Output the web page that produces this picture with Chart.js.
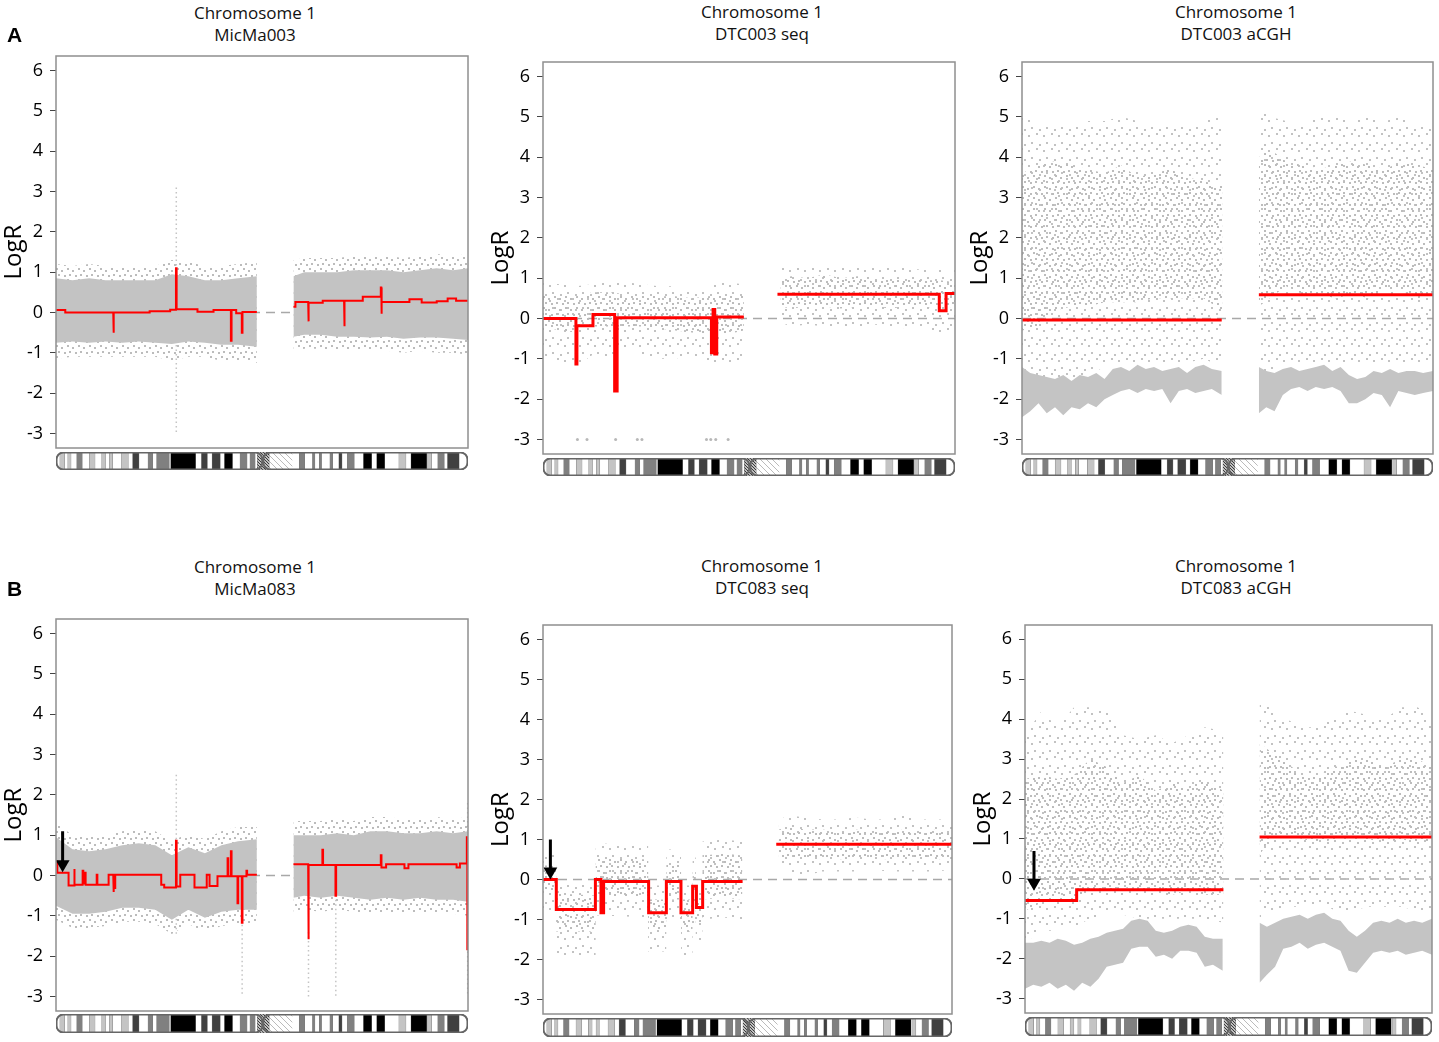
<!DOCTYPE html>
<html>
<head>
<meta charset="utf-8">
<title>Chromosome 1 LogR profiles</title>
<script src="https://cdn.jsdelivr.net/npm/chart.js@4.4.1/dist/chart.umd.min.js"></script>
<style>
body { margin: 0; background: #fff; font-family: "Open Sans", sans-serif; }
#fig { position: relative; width: 1439px; height: 1042px; overflow: hidden; }
.box { position: absolute; }
.box canvas { display: block; }
.ttl { position: absolute; font-size: 17px; line-height: 22px; color: #111; text-align: center; white-space: nowrap; transform: translateX(-50%); }
.lab { position: absolute; font: bold 21px/1 "Liberation Sans", Arial, sans-serif; color: #000; }
</style>
</head>
<body>
<div id="fig"></div>
<script>
/* ===============================
   DATA
=============================== */
const yTicks = [-3, -2, -1, 0, 1, 2, 3, 4, 5, 6];
const chromLength = 249;

// chromosome 1 ideogram bands (Mb)
const bandStart = [0, 2.3, 5.3, 7.1, 9.1, 12.5, 15.9, 20.1, 23.6, 27.6, 29.9, 32.3, 34.3, 39.6, 43.7, 46.3, 50.2, 55.6, 58.5, 60.8, 68.5, 69.3, 84.4, 87.9, 91.5, 94.3, 99.3, 101.8, 106.7, 111.2, 115.5, 117.2, 120.4, 121.7, 125.1, 128.9, 142.6, 147.0, 150.3, 155.0, 156.5, 159.1, 160.5, 165.5, 167.2, 170.9, 172.9, 176.0, 180.3, 185.8, 190.8, 193.8, 198.7, 207.2, 211.5, 214.5, 224.1, 224.6, 227.0, 230.7, 234.7, 236.6, 243.7];
const bandEnd = [2.3, 5.3, 7.1, 9.1, 12.5, 15.9, 20.1, 23.6, 27.6, 29.9, 32.3, 34.3, 39.6, 43.7, 46.3, 50.2, 55.6, 58.5, 60.8, 68.5, 69.3, 84.4, 87.9, 91.5, 94.3, 99.3, 101.8, 106.7, 111.2, 115.5, 117.2, 120.4, 121.7, 125.1, 128.9, 142.6, 147.0, 150.3, 155.0, 156.5, 159.1, 160.5, 165.5, 167.2, 170.9, 172.9, 176.0, 180.3, 185.8, 190.8, 193.8, 198.7, 207.2, 211.5, 214.5, 224.1, 224.6, 227.0, 230.7, 234.7, 236.6, 243.7, 249];
const bandStain = ["gneg", "gpos25", "gneg", "gpos25", "gneg", "gpos50", "gneg", "gpos25", "gneg", "gpos25", "gneg", "gpos25", "gneg", "gpos25", "gneg", "gpos75", "gneg", "gpos50", "gneg", "gpos50", "gneg", "gpos100", "gneg", "gpos75", "gneg", "gpos75", "gneg", "gpos100", "gneg", "gpos50", "gneg", "gpos50", "gneg", "acen", "acen", "gvar", "gneg", "gpos50", "gneg", "gpos50", "gneg", "gpos50", "gneg", "gpos50", "gneg", "gpos75", "gneg", "gpos50", "gneg", "gpos100", "gneg", "gpos100", "gneg", "gpos25", "gneg", "gpos100", "gneg", "gpos25", "gneg", "gpos50", "gneg", "gpos75", "gneg"];
const centromere = 125;

// shared position grid for the point clouds: 13 p-arm + 12 q-arm positions
const cloudX = [0, 10, 20, 30, 40, 50, 60, 70, 80, 90, 100, 110, 121.4, 143.5, 150, 160, 170, 180, 190, 200, 210, 220, 230, 240, 249];
const cloudP = 13;

// finer grid for the dense low cluster of the aCGH probes: 25 p-arm + 22 q-arm positions
const lowX = [0, 5, 10, 15, 20, 25, 30, 35, 40, 45, 50, 55, 60, 65, 70, 75, 80, 85, 90, 95, 100, 105, 110, 115, 121, 143.5, 148, 153, 158, 163, 168, 173, 178, 183, 188, 193, 198, 203, 208, 213, 218, 223, 228, 233, 238, 243, 249];
const lowP = 25;

// ---- MicMa003 ----
const m003SegStart = [0, 5.6, 34.6, 35.0, 56.6, 69.0, 72.5, 72.9, 85.5, 95.2, 105.7, 106.1, 108.9, 112.3, 112.7, 143.5, 144.7, 152.4, 152.8, 161.2, 174.1, 174.5, 185.4, 196.3, 196.6, 196.9, 213.6, 221.0, 230.1, 236.7, 241.8];
const m003SegEnd = [5.6, 34.6, 35.0, 56.6, 69.0, 72.5, 72.9, 85.5, 95.2, 105.7, 106.1, 108.9, 112.3, 112.7, 121.4, 144.7, 152.4, 152.8, 161.2, 174.1, 174.5, 185.4, 196.3, 196.6, 196.9, 213.6, 221.0, 230.1, 236.7, 241.8, 249];
const m003SegValue = [0.06, 0.0, -0.5, 0.0, 0.03, 0.07, 1.1, 0.08, 0.02, 0.06, -0.7, 0.06, -0.02, -0.5, 0.01, 0.14, 0.26, -0.22, 0.24, 0.29, -0.34, 0.29, 0.39, 0.62, -0.03, 0.26, 0.33, 0.25, 0.28, 0.35, 0.29];
const m003CoreHi = [0.85, 0.8, 0.85, 0.8, 0.8, 0.8, 0.8, 0.95, 0.9, 0.8, 0.8, 0.85, 0.9, 0.9, 1.0, 1.0, 1.0, 1.05, 1.05, 1.05, 1.0, 1.05, 1.1, 1.05, 1.1];
const m003CoreLo = [-0.75, -0.72, -0.75, -0.72, -0.75, -0.72, -0.75, -0.78, -0.72, -0.75, -0.8, -0.8, -0.85, -0.6, -0.55, -0.55, -0.6, -0.6, -0.62, -0.6, -0.65, -0.62, -0.62, -0.65, -0.68];
const m003HaloHi = [1.2, 1.15, 1.2, 1.15, 1.15, 1.15, 1.15, 1.3, 1.25, 1.15, 1.15, 1.2, 1.25, 1.3, 1.35, 1.35, 1.35, 1.4, 1.4, 1.4, 1.35, 1.4, 1.45, 1.4, 1.45];
const m003HaloLo = [-1.15, -1.1, -1.1, -1.1, -1.1, -1.1, -1.1, -1.2, -1.1, -1.1, -1.2, -1.2, -1.25, -0.95, -0.9, -0.9, -0.95, -0.95, -0.95, -0.95, -1.0, -0.95, -1.0, -1.0, -1.05];
const m003ColX = [72.7];
const m003ColTop = [3.1];
const m003ColBottom = [-3.0];

// ---- DTC003 seq ----
const s003SegStart = [0, 19.9, 20.5, 30.2, 43.3, 44.8, 101.8, 102.8, 103.8, 105.0, 141.7, 239.5, 243.6];
const s003SegEnd = [19.9, 20.5, 30.2, 43.3, 44.8, 101.8, 102.8, 103.8, 105.0, 121.4, 239.5, 243.6, 249];
const s003SegValue = [0.0, -1.13, -0.18, 0.1, -1.8, 0.02, -0.85, 0.22, -0.88, 0.04, 0.6, 0.19, 0.62];
const s003CoreHi = [0.6, 0.6, 0.55, 0.65, 0.65, 0.6, 0.6, 0.55, 0.55, 0.5, 0.55, 0.6, 0.6, 1.0, 1.05, 1.0, 1.1, 1.0, 1.05, 1.0, 1.0, 1.0, 0.95, 0.95, 0.9];
const s003CoreLo = [-0.2, -0.3, -0.35, -0.2, -0.2, -0.2, -0.2, -0.25, -0.3, -0.35, -0.4, -0.4, -0.3, 0.3, 0.25, 0.3, 0.3, 0.25, 0.3, 0.3, 0.25, 0.3, 0.3, 0.25, 0.3];
const s003HaloHi = [0.9, 0.85, 0.8, 0.85, 0.9, 0.9, 0.85, 0.8, 0.8, 0.75, 0.8, 0.9, 0.85, 1.3, 1.3, 1.25, 1.3, 1.3, 1.3, 1.25, 1.3, 1.25, 1.2, 1.2, 1.2];
const s003HaloLo = [-0.9, -1.1, -1.2, -0.9, -1.0, -0.8, -0.9, -1.0, -1.0, -0.9, -1.1, -1.2, -1.0, -0.1, -0.2, -0.15, -0.2, -0.2, -0.2, -0.15, -0.2, -0.25, -0.2, -0.4, -0.2];
const s003OutX = [20.8, 26.6, 43.9, 57.0, 59.8, 98.8, 101.4, 104.4, 111.9];
const s003OutY = [-3, -3, -3, -3, -3, -3, -3, -3, -3];

// ---- DTC003 aCGH ----
const c003SegStart = [0, 143.5];
const c003SegEnd = [121.0, 249];
const c003SegValue = [-0.04, 0.59];
const c003HaloHi = [5.0, 4.9, 4.8, 4.8, 4.9, 4.9, 5.0, 4.9, 4.8, 4.9, 4.8, 4.9, 5.0, 5.2, 5.0, 4.9, 4.8, 5.0, 5.0, 4.9, 5.0, 4.9, 5.0, 4.8, 4.9];
const c003HaloLo = [-1.6, -1.6, -1.5, -1.5, -1.4, -1.2, -1.1, -1.1, -1.1, -1.1, -1.1, -1.0, -1.2, -1.5, -1.3, -1.2, -1.1, -1.1, -1.1, -1.2, -1.1, -1.2, -1.1, -1.2, -1.2];
const c003CoreHi = [3.6, 3.8, 3.9, 3.8, 3.7, 3.6, 3.8, 3.5, 3.6, 3.7, 3.5, 3.4, 3.3, 4.0, 4.2, 3.9, 3.8, 3.7, 3.8, 3.9, 3.8, 3.7, 3.9, 3.8, 3.7];
const c003CoreLo = [-0.3, -0.2, 0.2, 0.3, 0.3, 0.4, 0.4, 0.4, 0.5, 0.5, 0.5, 0.5, 0.2, 0.3, 0.5, 0.8, 0.6, 0.6, 0.5, 0.6, 0.5, 0.7, 0.7, 0.5, 0.6];
const c003LowHi = [-1.2, -1.35, -1.4, -1.45, -1.5, -1.4, -1.55, -1.4, -1.45, -1.35, -1.5, -1.25, -1.2, -1.3, -1.15, -1.25, -1.2, -1.3, -1.25, -1.2, -1.35, -1.2, -1.15, -1.25, -1.3, -1.2, -1.3, -1.35, -1.25, -1.2, -1.3, -1.25, -1.2, -1.15, -1.3, -1.2, -1.4, -1.5, -1.45, -1.3, -1.35, -1.25, -1.35, -1.3, -1.3, -1.35, -1.3];
const c003LowLo = [-2.45, -2.3, -2.1, -2.35, -2.2, -2.4, -2.2, -2.25, -2.1, -2.2, -2.0, -1.9, -1.8, -1.75, -1.85, -1.75, -1.8, -1.75, -2.1, -1.8, -1.75, -1.85, -1.8, -1.75, -1.9, -2.35, -2.2, -2.3, -1.9, -1.75, -1.7, -1.8, -1.7, -1.75, -1.7, -1.8, -2.1, -2.1, -2.0, -1.85, -1.9, -2.2, -1.8, -1.85, -1.9, -1.85, -1.8];

// ---- MicMa083 ----
const m083SegStart = [0, 0.8, 7.6, 10.9, 11.3, 16.1, 16.5, 17.5, 17.9, 24.6, 25.0, 31.8, 34.6, 35.0, 35.8, 63.6, 65.4, 72.5, 72.9, 75.1, 83.7, 91.1, 92.8, 97.6, 103.7, 104.1, 105.7, 106.1, 109.7, 110.1, 112.3, 112.7, 115.1, 115.5, 143.5, 152.4, 152.8, 161.0, 161.4, 168.9, 169.3, 196.3, 196.7, 199.5, 210.6, 213.0, 242.1, 244.1, 248.3, 248.6];
const m083SegEnd = [0.8, 7.6, 10.9, 11.3, 16.1, 16.5, 17.5, 17.9, 24.6, 25.0, 31.8, 34.6, 35.0, 35.8, 63.6, 65.4, 72.5, 72.9, 75.1, 83.7, 91.1, 92.8, 97.6, 103.7, 104.1, 105.7, 106.1, 109.7, 110.1, 112.3, 112.7, 115.1, 115.5, 121.4, 152.4, 152.8, 161.0, 161.4, 168.9, 169.3, 196.3, 196.7, 199.5, 210.6, 213.0, 242.1, 244.1, 248.3, 248.6, 249];
const m083SegValue = [0.35, 0.07, -0.25, 0.16, -0.23, 0.12, -0.2, 0.07, -0.23, 0.02, -0.23, 0.02, -0.41, -0.31, 0.02, -0.23, -0.3, 0.86, -0.27, 0.02, -0.3, 0.02, -0.26, -0.02, 0.43, -0.02, 0.6, -0.02, -0.69, -0.02, -1.17, -0.02, 0.12, 0.02, 0.28, -1.58, 0.26, 0.64, 0.26, -0.5, 0.26, 0.5, 0.2, 0.28, 0.18, 0.28, 0.2, 0.3, 0.95, -1.83];
const m083CoreHi = [0.95, 0.65, 0.6, 0.65, 0.75, 0.8, 0.75, 0.5, 0.7, 0.55, 0.75, 0.85, 0.9, 1.0, 1.0, 1.0, 1.05, 1.0, 1.1, 1.1, 1.05, 1.05, 1.1, 1.05, 1.1];
const m083CoreLo = [-0.75, -0.95, -0.95, -0.9, -0.8, -0.8, -0.85, -1.1, -0.85, -1.05, -0.9, -0.85, -0.85, -0.55, -0.5, -0.55, -0.5, -0.55, -0.6, -0.55, -0.6, -0.55, -0.6, -0.6, -0.65];
const m083HaloHi = [1.3, 1.0, 0.95, 1.0, 1.1, 1.15, 1.1, 0.85, 1.05, 0.9, 1.1, 1.2, 1.2, 1.35, 1.35, 1.35, 1.4, 1.35, 1.45, 1.45, 1.4, 1.4, 1.45, 1.4, 1.45];
const m083HaloLo = [-1.1, -1.3, -1.3, -1.25, -1.15, -1.15, -1.2, -1.45, -1.2, -1.4, -1.25, -1.2, -1.2, -0.9, -0.85, -0.9, -0.85, -0.9, -0.95, -0.9, -0.95, -0.9, -0.95, -0.95, -1.0];
const m083ColX = [72.7, 112.5, 152.6, 169.1, 248.8];
const m083ColTop = [2.5, -1.0, -1.4, -0.6, 1.8];
const m083ColBottom = [-1.5, -3.0, -3.0, -3.0, -3.0];
const m083Arrow = [4.0, 1.1, 0.28]; // x, shaft top, head centre

// ---- DTC083 seq ----
const s083SegStart = [0, 8.1, 31.9, 35.3, 36.9, 64.3, 75.1, 84.0, 91.1, 93.4, 97.2, 142];
const s083SegEnd = [8.1, 31.9, 35.3, 36.9, 64.3, 75.1, 84.0, 91.1, 93.4, 97.2, 121.5, 249];
const s083SegValue = [0.0, -0.75, 0.0, -0.83, -0.05, -0.83, -0.05, -0.83, -0.17, -0.7, -0.05, 0.88];
const s083CloudX = [0, 8, 8.1, 32, 32.1, 36, 64, 64.1, 75, 75.1, 84, 84.1, 91, 91.1, 93, 93.1, 97, 97.1, 110, 121.4, 143.5, 150, 160, 170, 180, 190, 200, 210, 220, 230, 240, 249];
const s083CloudP = 20;
const s083CoreHi = [0.35, 0.35, -0.35, -0.4, 0.5, 0.55, 0.5, -0.5, -0.5, 0.4, 0.4, -0.5, -0.5, 0.2, 0.2, -0.4, -0.4, 0.6, 0.65, 0.6, 1.25, 1.3, 1.25, 1.25, 1.2, 1.25, 1.2, 1.2, 1.25, 1.2, 1.25, 1.2];
const s083CoreLo = [-0.3, -0.3, -1.3, -1.3, -0.4, -0.4, -0.45, -1.25, -1.25, -0.5, -0.5, -1.3, -1.3, -0.6, -0.6, -1.1, -1.1, -0.5, -0.45, -0.5, 0.55, 0.5, 0.55, 0.55, 0.5, 0.55, 0.55, 0.5, 0.55, 0.55, 0.5, 0.55];
const s083HaloHi = [0.7, 0.7, 0.0, -0.05, 0.85, 0.9, 0.85, -0.15, -0.15, 0.75, 0.75, -0.15, -0.15, 0.55, 0.55, -0.05, -0.05, 0.95, 1.0, 0.95, 1.5, 1.6, 1.55, 1.5, 1.5, 1.55, 1.5, 1.5, 1.6, 1.5, 1.5, 1.5];
const s083HaloLo = [-0.8, -0.8, -2.0, -2.0, -0.9, -0.9, -0.95, -1.8, -1.8, -1.0, -1.0, -1.9, -1.9, -1.1, -1.1, -1.6, -1.6, -1.0, -0.95, -1.0, 0.3, 0.2, 0.1, 0.2, 0.2, 0.2, 0.25, 0.2, 0.2, 0.2, 0.2, 0.25];
const s083Arrow = [4.5, 1.0, 0.2];

// ---- DTC083 aCGH ----
const c083SegStart = [0, 31.6, 143.5];
const c083SegEnd = [31.6, 121.4, 249];
const c083SegValue = [-0.54, -0.27, 1.05];
const c083HaloHi = [3.6, 4.2, 3.8, 4.3, 4.3, 4.2, 3.6, 3.5, 3.6, 3.4, 3.6, 3.8, 3.7, 4.5, 4.3, 4.0, 3.8, 3.8, 4.1, 4.2, 4.1, 4.0, 4.3, 4.3, 4.1];
const c083HaloLo = [-1.6, -1.3, -1.3, -1.2, -1.0, -0.9, -0.9, -1.0, -1.0, -1.0, -1.0, -1.0, -1.1, -1.0, -0.8, -0.7, -0.7, -0.6, -0.8, -0.8, -0.7, -0.7, -0.7, -0.8, -0.8];
const c083CoreHi = [2.5, 2.6, 2.5, 2.6, 3.0, 2.8, 2.4, 2.6, 2.2, 2.4, 2.3, 2.5, 2.2, 3.4, 3.2, 2.9, 2.6, 2.6, 2.8, 3.0, 3.0, 2.8, 3.0, 3.0, 2.8];
const c083CoreLo = [-0.8, -0.6, -0.6, -0.5, -0.3, -0.3, -0.2, -0.3, -0.3, -0.4, -0.3, -0.4, -0.4, 0.6, 1.0, 1.1, 1.0, 0.9, 1.0, 1.0, 1.0, 0.9, 1.0, 0.9, 0.9];
const c083LowHi = [-1.6, -1.6, -1.55, -1.6, -1.5, -1.55, -1.65, -1.6, -1.5, -1.45, -1.35, -1.3, -1.25, -1.05, -1.0, -1.05, -1.3, -1.35, -1.3, -1.2, -1.15, -1.2, -1.45, -1.5, -1.5, -1.1, -1.2, -1.1, -1.0, -0.95, -0.9, -1.0, -0.9, -0.85, -1.0, -1.05, -1.3, -1.45, -1.3, -1.1, -1.05, -1.1, -1.0, -1.1, -1.05, -1.1, -1.0];
const c083LowLo = [-2.75, -2.65, -2.7, -2.6, -2.75, -2.65, -2.8, -2.6, -2.7, -2.5, -2.2, -2.15, -2.1, -1.75, -1.7, -1.7, -1.95, -1.9, -2.0, -1.8, -1.8, -1.85, -2.2, -2.15, -2.3, -2.6, -2.4, -2.2, -1.75, -1.7, -1.6, -1.75, -1.65, -1.6, -1.7, -1.8, -2.3, -2.35, -2.1, -1.85, -1.8, -1.85, -1.8, -1.9, -1.85, -1.8, -1.9];
const c083Arrow = [5.5, 0.7, -0.1];

/* ===============================
   STYLE HELPERS
=============================== */
const FONT = "'Open Sans', sans-serif";
const CLEAR = "rgba(0,0,0,0)";

function dotPattern(tile, pts, color) {
    const c = document.createElement("canvas");
    c.width = tile;
    c.height = tile;
    const g = c.getContext("2d");
    g.fillStyle = color;
    pts.forEach(p => g.fillRect(p[0], p[1], 2, 2));
    return g.createPattern(c, "repeat");
}

function hatchPattern(color, gap, width) {
    const c = document.createElement("canvas");
    c.width = gap;
    c.height = gap;
    const g = c.getContext("2d");
    g.fillStyle = "#fff";
    g.fillRect(0, 0, gap, gap);
    g.strokeStyle = color;
    g.lineWidth = width;
    g.beginPath();
    g.moveTo(0, 0); g.lineTo(gap, gap);
    g.moveTo(-1, gap - 1); g.lineTo(1, gap + 1);
    g.moveTo(gap - 1, -1); g.lineTo(gap + 1, 1);
    g.stroke();
    return g.createPattern(c, "repeat");
}

const dotsDense = dotPattern(11, [[1, 1], [6, 3], [3, 7], [9, 8]], "#bcbcbc");
const dotsSparse = dotPattern(15, [[2, 3], [10, 1], [5, 10], [13, 12]], "#c2c2c2");
const solidCore = "#c3c3c3";
const lowBand = "#c4c4c4";

const stainColor = {
    gneg: "#ffffff",
    gpos25: "#c4c4c4",
    gpos50: "#808080",
    gpos75: "#404040",
    gpos100: "#000000",
    acen: hatchPattern("#333", 3, 1.2),
    gvar: hatchPattern("#bbb", 6, 1)
};

/* ===============================
   DATASET BUILDERS
=============================== */
function stepPoints(starts, ends, values) {
    const pts = [];
    for (let i = 0; i < starts.length; i++) {
        if (i > 0 && starts[i] - ends[i - 1] > 1) {
            pts.push({ x: (starts[i] + ends[i - 1]) / 2, y: null });
        }
        pts.push({ x: starts[i], y: values[i] });
        pts.push({ x: ends[i], y: values[i] });
    }
    return pts;
}

function bandSets(xs, nP, lo, hi, fill, order) {
    const sets = [];
    [[0, nP], [nP, xs.length]].forEach(r => {
        const idx = [];
        for (let i = r[0]; i < r[1]; i++) idx.push(i);
        sets.push({
            data: idx.map(i => ({ x: xs[i], y: lo[i] })),
            borderColor: CLEAR, borderWidth: 0, pointRadius: 0, fill: false, order: order
        });
        sets.push({
            data: idx.map(i => ({ x: xs[i], y: hi[i] })),
            borderColor: CLEAR, borderWidth: 0, pointRadius: 0, fill: "-1",
            backgroundColor: fill, order: order
        });
    });
    return sets;
}

function columnSets(xs, tops, bottoms) {
    return xs.map((x, i) => ({
        data: [{ x: x, y: tops[i] }, { x: x, y: bottoms[i] }],
        borderColor: "#c4c4c4", borderWidth: 1.5, borderDash: [1.5, 3],
        pointRadius: 0, fill: false, order: 9
    }));
}

/* ===============================
   PANELS
=============================== */
const panels = [
    {
        title: ["Chromosome 1", "MicMa003"], titleX: 255, titleY: 2,
        box: [56, 56, 468, 448], ideo: [452, 470], red: 2,
        seg: [m003SegStart, m003SegEnd, m003SegValue],
        bands: () => [].concat(
            bandSets(cloudX, cloudP, m003HaloLo, m003HaloHi, dotsDense, 8),
            bandSets(cloudX, cloudP, m003CoreLo, m003CoreHi, solidCore, 6)),
        cols: [m003ColX, m003ColTop, m003ColBottom]
    },
    {
        title: ["Chromosome 1", "DTC003 seq"], titleX: 762, titleY: 1,
        box: [543, 62, 955, 454], ideo: [458, 476], red: 3,
        seg: [s003SegStart, s003SegEnd, s003SegValue],
        bands: () => [].concat(
            bandSets(cloudX, cloudP, s003HaloLo, s003HaloHi, dotsSparse, 8),
            bandSets(cloudX, cloudP, s003CoreLo, s003CoreHi, dotsDense, 7)),
        out: [s003OutX, s003OutY]
    },
    {
        title: ["Chromosome 1", "DTC003 aCGH"], titleX: 1236, titleY: 1,
        box: [1022, 62, 1433, 454], ideo: [458, 476], red: 3,
        seg: [c003SegStart, c003SegEnd, c003SegValue],
        bands: () => [].concat(
            bandSets(cloudX, cloudP, c003HaloLo, c003HaloHi, dotsSparse, 8),
            bandSets(cloudX, cloudP, c003CoreLo, c003CoreHi, dotsDense, 7),
            bandSets(lowX, lowP, c003LowLo, c003LowHi, lowBand, 6))
    },
    {
        title: ["Chromosome 1", "MicMa083"], titleX: 255, titleY: 556,
        box: [56, 619, 468, 1011], ideo: [1014, 1033], red: 2,
        seg: [m083SegStart, m083SegEnd, m083SegValue],
        bands: () => [].concat(
            bandSets(cloudX, cloudP, m083HaloLo, m083HaloHi, dotsDense, 8),
            bandSets(cloudX, cloudP, m083CoreLo, m083CoreHi, solidCore, 6)),
        cols: [m083ColX, m083ColTop, m083ColBottom],
        arrow: m083Arrow
    },
    {
        title: ["Chromosome 1", "DTC083 seq"], titleX: 762, titleY: 555,
        box: [543, 625, 952, 1014], ideo: [1018, 1037], red: 3,
        seg: [s083SegStart, s083SegEnd, s083SegValue],
        bands: () => [].concat(
            bandSets(s083CloudX, s083CloudP, s083HaloLo, s083HaloHi, dotsSparse, 8),
            bandSets(s083CloudX, s083CloudP, s083CoreLo, s083CoreHi, dotsDense, 7)),
        arrow: s083Arrow
    },
    {
        title: ["Chromosome 1", "DTC083 aCGH"], titleX: 1236, titleY: 555,
        box: [1025, 625, 1432, 1013], ideo: [1017, 1036], red: 3,
        seg: [c083SegStart, c083SegEnd, c083SegValue],
        bands: () => [].concat(
            bandSets(cloudX, cloudP, c083HaloLo, c083HaloHi, dotsSparse, 8),
            bandSets(cloudX, cloudP, c083CoreLo, c083CoreHi, dotsDense, 7),
            bandSets(lowX, lowP, c083LowLo, c083LowHi, lowBand, 6)),
        arrow: c083Arrow
    }
];

const fig = document.getElementById("fig");
const AXIS_W = 56;
const PAD_V = 20;   // room for tick-label and point overflow so the plot box lands where it should
const PAD_R = 12;

const framePlugin = {
    id: "frame",
    afterDatasetsDraw(chart) {
        const { ctx, chartArea: a } = chart;
        ctx.save();
        ctx.strokeStyle = "#8f8f8f";
        ctx.lineWidth = 1.5;
        ctx.strokeRect(a.left, a.top, a.width, a.height);
        ctx.restore();
    }
};

function addBox(left, top, width, height) {
    const div = document.createElement("div");
    div.className = "box";
    div.style.left = left + "px";
    div.style.top = top + "px";
    div.style.width = width + "px";
    div.style.height = height + "px";
    const cv = document.createElement("canvas");
    div.appendChild(cv);
    fig.appendChild(div);
    return cv;
}

function drawPanel(p) {
    const [L, T, R, B] = p.box;

    const t = document.createElement("div");
    t.className = "ttl";
    t.style.left = p.titleX + "px";
    t.style.top = p.titleY + "px";
    t.innerHTML = p.title.join("<br>");
    fig.appendChild(t);

    const datasets = [];

    // dashed zero line
    datasets.push({
        data: [{ x: 0, y: 0 }, { x: chromLength, y: 0 }],
        borderColor: "#a8a8a8", borderWidth: 1.5, borderDash: [9, 6],
        pointRadius: 0, fill: false, order: 10
    });

    if (p.cols) datasets.push(...columnSets(p.cols[0], p.cols[1], p.cols[2]));
    datasets.push(...p.bands());

    if (p.out) {
        datasets.push({
            type: "scatter",
            data: p.out[0].map((x, i) => ({ x: x, y: p.out[1][i] })),
            pointRadius: 1.5, pointBackgroundColor: "#b8b8b8", pointBorderWidth: 0,
            showLine: false, order: 5
        });
    }

    // segmentation
    datasets.push({
        data: stepPoints(p.seg[0], p.seg[1], p.seg[2]),
        borderColor: "#ff0000", borderWidth: p.red, pointRadius: 0,
        fill: false, spanGaps: false, order: 2
    });

    if (p.arrow) {
        datasets.push({
            data: [{ x: p.arrow[0], y: p.arrow[1] }, { x: p.arrow[0], y: p.arrow[2] }],
            borderColor: "#000", borderWidth: 3, fill: false,
            pointRadius: [0, 8], pointStyle: "triangle", rotation: 180,
            pointBackgroundColor: "#000", pointBorderWidth: 0, order: 1
        });
    }

    const cv = addBox(L - AXIS_W, T - PAD_V, (R - L) + AXIS_W + PAD_R, (B - T) + 2 * PAD_V);
    new Chart(cv, {
        type: "line",
        data: { datasets: datasets },
        plugins: [framePlugin],
        options: {
            responsive: true,
            maintainAspectRatio: false,
            animation: false,
            layout: { padding: { left: 0, right: PAD_R, top: PAD_V, bottom: PAD_V } },
            plugins: { legend: { display: false }, tooltip: { enabled: false } },
            elements: { line: { tension: 0 } },
            scales: {
                x: { type: "linear", min: 0, max: chromLength, display: false },
                y: {
                    min: -3.36,
                    max: 6.36,
                    afterBuildTicks: s => { s.ticks = yTicks.map(v => ({ value: v })); },
                    afterFit: s => { s.width = AXIS_W; },
                    ticks: { color: "#000", font: { family: FONT, size: 18 }, padding: 7, autoSkip: false },
                    grid: { drawOnChartArea: false, drawTicks: true, tickLength: 6, color: "#444" },
                    border: { display: false },
                    title: {
                        display: true, text: "LogR", color: "#000",
                        font: { family: FONT, size: 24 }, padding: { top: 0, bottom: 0 }
                    }
                }
            }
        }
    });

    drawIdeogram(L, p.ideo[0], R - L, p.ideo[1] - p.ideo[0]);
}

function drawIdeogram(left, top, width, height) {
    const stains = ["gpos25", "gpos50", "gpos75", "gpos100", "acen", "gvar"];
    const datasets = [{
        data: [{ x: [0, centromere], y: "chr1" }, { x: [centromere, chromLength], y: "chr1" }],
        backgroundColor: CLEAR, borderColor: "#666", borderWidth: 1.2, borderRadius: 7
    }];
    stains.forEach(st => {
        const rows = [];
        bandStain.forEach((s, i) => { if (s === st) rows.push({ x: [bandStart[i], bandEnd[i]], y: "chr1" }); });
        datasets.push({
            data: rows,
            backgroundColor: stainColor[st],
            borderColor: st === "gvar" ? CLEAR : "#777",
            borderWidth: st === "gvar" ? 0 : 0.5
        });
    });

    const cv = addBox(left, top, width, height);
    new Chart(cv, {
        type: "bar",
        data: { labels: ["chr1"], datasets: datasets },
        options: {
            indexAxis: "y",
            responsive: true,
            maintainAspectRatio: false,
            animation: false,
            layout: { padding: 0 },
            plugins: { legend: { display: false }, tooltip: { enabled: false } },
            datasets: { bar: { grouped: false, categoryPercentage: 1, barPercentage: 1, borderSkipped: false } },
            scales: {
                x: { type: "linear", min: 0, max: chromLength, display: false },
                y: { display: false }
            }
        }
    });
}

panels.forEach(drawPanel);

/* panel letters */
[["A", 24], ["B", 578]].forEach(l => {
    const d = document.createElement("div");
    d.className = "lab";
    d.style.left = "7px";
    d.style.top = l[1] + "px";
    d.textContent = l[0];
    fig.appendChild(d);
});
</script>
</body>
</html>
